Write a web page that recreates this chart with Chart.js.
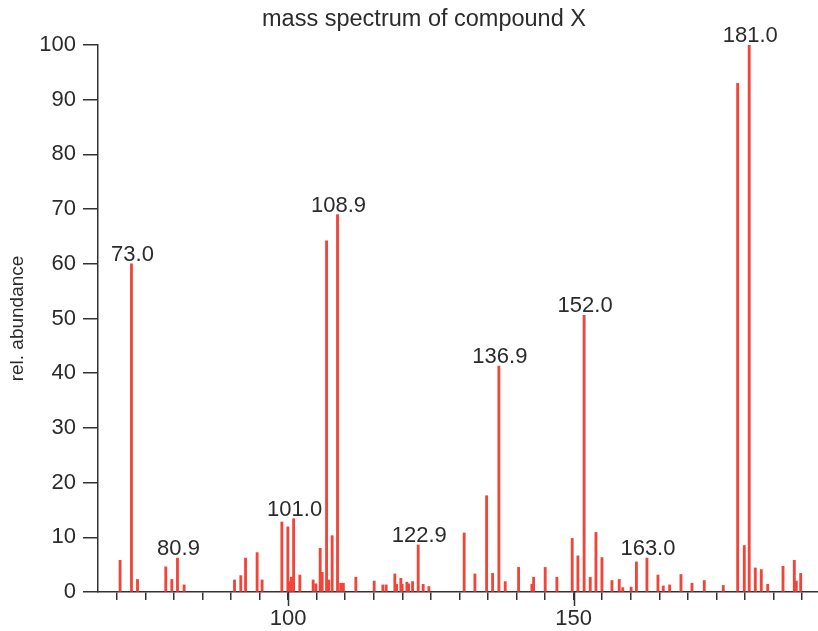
<!DOCTYPE html>
<html>
<head>
<meta charset="utf-8">
<script src="https://cdn.jsdelivr.net/npm/chart.js@4/dist/chart.umd.min.js"></script>
<style>
  html, body { margin: 0; padding: 0; background: #fff; }
</style>
</head>
<body>
<canvas id="c" width="818" height="631"></canvas>
<script>
// m/z positions of the peaks
const mz = [
  70.57, 72.56, 73.62, 78.57, 79.63, 80.62, 81.78,
  90.61, 91.71, 92.54, 94.57, 95.44, 98.9, 99.95, 100.28, 100.56, 100.96,
  102.05, 104.38, 104.85, 105.61, 105.96, 106.73, 107.1, 107.71, 108.65,
  109.2, 109.67, 111.86, 115.07, 116.59, 117.17, 118.69, 118.99, 119.74,
  119.97, 120.8, 121.09, 121.79, 122.78, 123.65, 124.65,
  130.83, 132.71, 134.76, 135.81, 136.91, 138.02, 140.36, 142.69, 142.99,
  145.02, 147.07, 149.75, 150.75, 151.84, 152.91, 153.91, 154.96, 156.71,
  157.99, 158.6, 160.07, 161.0, 162.84, 164.77, 165.7, 166.82, 168.8,
  170.73, 172.88, 176.21, 178.73, 179.89, 180.75, 181.82, 182.87, 183.99,
  186.67, 188.65, 189.0, 189.77
];
// relative abundance for each peak
const abundance = [
  5.8, 60.0, 2.3, 4.6, 2.3, 6.2, 1.3,
  2.2, 3.0, 6.2, 7.2, 2.2, 12.8, 11.9, 1.9, 2.7, 13.4,
  3.1, 2.2, 1.5, 8.0, 3.6, 64.2, 2.2, 10.3, 69.0,
  1.6, 1.6, 2.7, 2.0, 1.3, 1.3, 3.3, 1.4, 2.5,
  1.4, 1.8, 1.5, 1.9, 8.6, 1.4, 1.0,
  10.8, 3.3, 17.6, 3.4, 41.3, 1.9, 4.5, 1.4, 2.7,
  4.5, 2.7, 9.8, 6.6, 50.6, 2.7, 10.9, 6.3, 2.1,
  2.3, 0.8, 0.9, 5.5, 6.2, 3.1, 1.1, 1.3, 3.2,
  1.6, 2.1, 1.2, 93.0, 8.5, 100.0, 4.4, 4.1, 1.4,
  4.7, 5.8, 2.0, 3.4
];
// annotated peaks
const peakMz = [72.56, 80.62, 100.96, 108.65, 122.78, 136.91, 151.84, 162.84, 180.75];
const peakLabels = ['73.0', '80.9', '101.0', '108.9', '122.9', '136.9', '152.0', '163.0', '181.0'];
const majorTicks = [100, 150];

const FONT = "'Liberation Sans', Arial, sans-serif";
const TXT = '#2b2b2b';
const AXIS = '#333';
const BAR = '#f2453a';

// titre dessiné à la main (centré comme dans l'original)
const titlePlugin = {
  id: 'specTitle',
  afterDraw(chart) {
    const ctx = chart.ctx;
    ctx.save();
    ctx.font = '23.5px ' + FONT;
    ctx.fillStyle = TXT;
    ctx.textAlign = 'center';
    ctx.textBaseline = 'alphabetic';
    ctx.fillText('mass spectrum of compound X', 424, 26);
    ctx.restore();
  }
};

// étiquettes des pics + ticks majeurs plus longs
const peakPlugin = {
  id: 'peakLabels',
  afterDatasetsDraw(chart) {
    const ctx = chart.ctx;
    const meta = chart.getDatasetMeta(0);
    ctx.save();
    ctx.font = '22px ' + FONT;
    ctx.fillStyle = TXT;
    ctx.textAlign = 'center';
    ctx.textBaseline = 'alphabetic';
    peakMz.forEach((m, k) => {
      const i = mz.indexOf(m);
      if (i < 0) return;
      const el = meta.data[i];
      ctx.fillText(peakLabels[k], el.x + 1, el.y - 3);
    });
    ctx.restore();
  },
  afterDraw(chart) {
    const ctx = chart.ctx;
    const xs = chart.scales.x;
    ctx.save();
    ctx.strokeStyle = AXIS;
    ctx.lineWidth = 1.5;
    majorTicks.forEach(v => {
      const px = Math.round(xs.getPixelForValue(v)) + 0.5;
      ctx.beginPath();
      ctx.moveTo(px, chart.chartArea.bottom);
      ctx.lineTo(px, chart.chartArea.bottom + 14);
      ctx.stroke();
    });
    ctx.restore();
  }
};

new Chart(document.getElementById('c').getContext('2d'), {
  type: 'bar',
  data: {
    datasets: [{
      data: mz.map((m, i) => ({ x: m, y: abundance[i] })),
      backgroundColor: BAR,
      borderWidth: 0,
      barThickness: 2.2
    }]
  },
  options: {
    responsive: false,
    animation: false,
    layout: { padding: { top: 45, left: 0, right: 0, bottom: 0 } },
    plugins: { legend: { display: false }, tooltip: { enabled: false }, title: { display: false } },
    scales: {
      x: {
        type: 'linear',
        min: 66.7, max: 192.8,
        offset: false,
        grid: { offset: false, drawOnChartArea: false, tickLength: 8, color: AXIS, lineWidth: 1.5 },
        border: { display: true, color: AXIS, width: 1.5 },
        ticks: {
          stepSize: 5, includeBounds: false, autoSkip: false, maxRotation: 0,
          padding: 6, color: TXT, font: { family: FONT, size: 22 },
          callback: v => majorTicks.includes(v) ? String(v) : ''
        },
        afterFit: s => { s.height = 39; }
      },
      y: {
        min: 0, max: 100,
        grid: { drawOnChartArea: false, tickLength: 15, color: AXIS, lineWidth: 1.5 },
        border: { display: true, color: AXIS, width: 1.5 },
        ticks: { stepSize: 10, padding: 7, color: TXT, font: { family: FONT, size: 22 } },
        title: { display: true, text: 'rel. abundance', color: TXT, font: { family: FONT, size: 19 }, padding: { top: 6, bottom: 0 } },
        afterFit: s => { s.width = 98; }
      }
    }
  },
  plugins: [titlePlugin, peakPlugin]
});
</script>
</body>
</html>
